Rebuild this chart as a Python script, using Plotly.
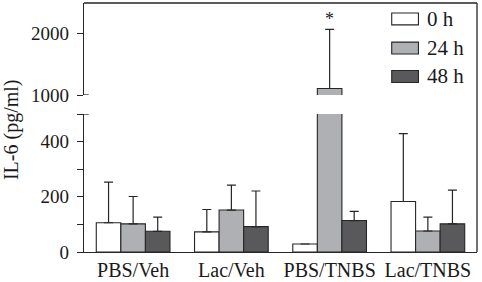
import plotly.graph_objects as go

categories = ["PBS/Veh", "Lac/Veh", "PBS/TNBS", "Lac/TNBS"]
series_names = ["0 h", "24 h", "48 h"]
mean_0h = [106, 73, 29, 183]
sd_0h = [147, 81, 0, 246]
mean_24h = [102, 152, 1105, 76]
sd_24h = [99, 90, 955, 50]
mean_48h = [75, 92, 114, 102]
sd_48h = [51, 129, 33, 122]
colors = ["#FFFFFF", "#AFB0B4", "#59595B"]
lower_ticks = [0, 100, 200, 300, 400, 500]
lower_labels = ["0", "", "200", "", "400", ""]
upper_ticks = [1000, 2000]
upper_labels = ["1000", "2000"]
star_text = "*"

means = [mean_0h, mean_24h, mean_48h]
sds = [sd_0h, sd_24h, sd_48h]

FONT = "'Liberation Serif'"
INK = "#262626"

fig = go.Figure()
for ax_y, ax_x in [("y", "x"), ("y2", "x2")]:
    for name, m, s, c in zip(series_names, means, sds, colors):
        fig.add_trace(go.Bar(
            x=categories, y=m, name=name, xaxis=ax_x, yaxis=ax_y,
            marker=dict(color=c, line=dict(color=INK, width=1.1)),
            error_y=dict(type="data", symmetric=False, array=s,
                         arrayminus=[0] * len(s), color=INK,
                         thickness=1.2, width=4.5, visible=True),
            showlegend=False, hoverinfo="skip",
        ))

low_dom = [0, 138 / 249]
up_dom = [157 / 249, 1]

fig.update_layout(
    width=482, height=282,
    margin=dict(l=84, r=5, t=3, b=30, autoexpand=False),
    paper_bgcolor="white", plot_bgcolor="white",
    barmode="group", bargap=0.25, bargroupgap=0,
    font=dict(family=FONT, size=19, color="#1a1a1a"),
    xaxis=dict(domain=[0, 1], anchor="y", showline=True, linecolor=INK,
               linewidth=1.3, ticks="", showgrid=False, automargin=False,
               tickfont=dict(size=20)),
    xaxis2=dict(domain=[0, 1], anchor="y2", matches="x", visible=False),
    yaxis=dict(domain=low_dom, range=[0, 500], anchor="x", automargin=False,
               tickvals=lower_ticks, ticktext=lower_labels,
               ticks="outside", ticklen=6, tickwidth=1.3, tickcolor=INK,
               showline=True, linecolor=INK, linewidth=1.3,
               showgrid=False, zeroline=False, ticklabelstandoff=4),
    yaxis2=dict(domain=up_dom, range=[1000, 2484], anchor="x2", automargin=False,
                tickvals=upper_ticks, ticktext=upper_labels,
                ticks="outside", ticklen=6, tickwidth=1.3, tickcolor=INK,
                showline=True, linecolor=INK, linewidth=1.3,
                showgrid=False, zeroline=False, ticklabelstandoff=4),
)

# frame: top and right borders
fig.add_shape(type="line", xref="paper", yref="paper", x0=0, x1=1, y0=1, y1=1,
              line=dict(color=INK, width=1.3))
fig.add_shape(type="line", xref="paper", yref="paper", x0=1, x1=1, y0=0, y1=1,
              line=dict(color=INK, width=1.3))
# break end marks (inner half of tick)
fig.add_shape(type="line", xref="paper", yref="y2", x0=0, x1=0.012, y0=1000, y1=1000,
              line=dict(color=INK, width=1.3))
fig.add_shape(type="line", xref="paper", yref="y", x0=0, x1=0.012, y0=500, y1=500,
              line=dict(color=INK, width=1.3))

# y title
fig.add_annotation(text="IL-6 (pg/ml)", xref="paper", yref="paper",
                   x=-0.183, y=0.49, textangle=-90, showarrow=False,
                   xanchor="center", yanchor="middle",
                   font=dict(size=20, family=FONT, color="#1a1a1a"))

# significance star above the 24 h bar of PBS/TNBS
fig.add_annotation(text=star_text, x=categories[2], xref="x2", yref="y2",
                   y=mean_24h[2] + sd_24h[2], showarrow=False,
                   yanchor="middle", yshift=10,
                   font=dict(size=18, family=FONT, color="#1a1a1a"))

# manual legend
row_y = [0.936, 0.819, 0.705]
for name, c, yy in zip(series_names, colors, row_y):
    fig.add_shape(type="rect", xref="paper", yref="paper",
                  x0=0.783, x1=0.851, y0=yy - 0.024, y1=yy + 0.024,
                  fillcolor=c, line=dict(color=INK, width=1.1))
    fig.add_annotation(text=name, xref="paper", yref="paper", x=0.868, y=yy,
                       xanchor="left", yanchor="middle", showarrow=False,
                       font=dict(size=21, family=FONT, color="#1a1a1a"))

fig.write_html("out.html", config={"displayModeBar": False},
               post_script="document.body.style.margin='0';document.body.style.overflow='hidden';")
